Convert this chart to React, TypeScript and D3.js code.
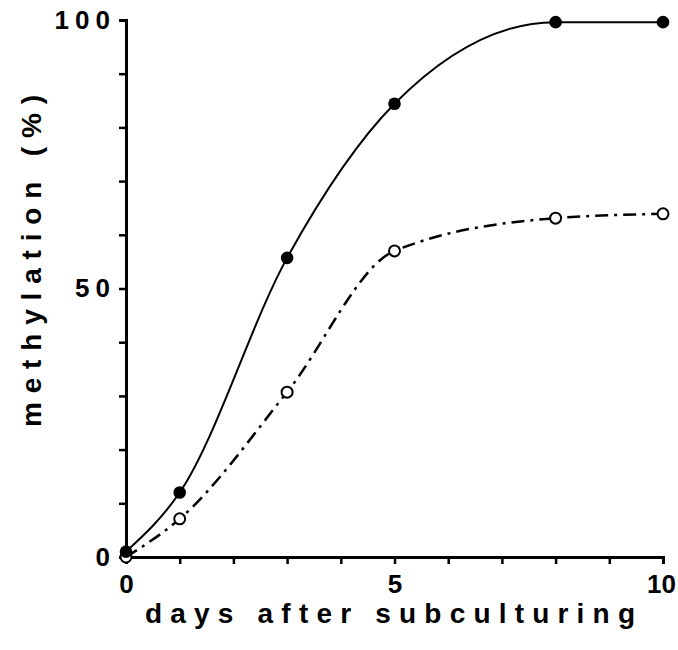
import React, { useEffect, useRef } from 'react';
import * as d3 from 'd3';

// ----- data -----
const days = [0, 1, 3, 5, 8, 10];
const filledSeries = [1, 12, 55.7, 84.4, 99.6, 99.6];
const openSeries = [0, 7.1, 30.7, 57, 63.1, 63.9];
const yTicks = [0, 10, 20, 30, 40, 50, 60, 70, 80, 90, 100];
const yLabels = [0, 50, 100];
const xTicks = [0, 1, 2, 3, 4, 5, 6, 7, 8, 9, 10];
const xLabels = [0, 5, 10];

const FONT = '"Liberation Sans", Arial, Helvetica, sans-serif';

const App = () => {
  const ref = useRef<SVGSVGElement | null>(null);

  useEffect(() => {
    const fullW = 678;
    const fullH = 650;
    const svg = d3.select(ref.current);
    svg.selectAll('*').remove();
    svg.attr('width', fullW).attr('height', fullH);

    const x = d3.scaleLinear().domain([0, 10]).range([126, 663]);
    const y = d3.scaleLinear().domain([0, 100]).range([557, 20]);

    // axes
    const ax = svg.append('g').attr('transform', `translate(0,${y(0)})`)
      .call(d3.axisBottom(x).tickValues(xTicks).tickSize(7).tickSizeOuter(7).tickPadding(11)
        .tickFormat(d => (xLabels.includes(+d) ? String(d) : '')));
    const ay = svg.append('g').attr('transform', `translate(${x(0)},0)`)
      .call(d3.axisLeft(y).tickValues(yTicks).tickSize(7).tickSizeOuter(7).tickPadding(9)
        .tickFormat(d => (yLabels.includes(+d) ? String(d) : '')));

    [ax, ay].forEach(a => {
      a.select('.domain').attr('stroke', '#000').attr('stroke-width', 3);
      a.selectAll('.tick line').attr('stroke', '#000').attr('stroke-width', 2.5);
      a.selectAll('.tick text')
        .attr('fill', '#000')
        .style('font-family', FONT)
        .style('font-weight', 'bold')
        .style('font-size', '26px');
    });
    // letter-spacing trails the last glyph, shift back
    ay.selectAll('.tick text').style('letter-spacing', '6px').attr('dx', 6);
    ax.selectAll('.tick text').attr('dx', d => (+d === 10 ? -2 : 0));

    const pts = (vals: number[]) => days.map((d, i) => [d, vals[i]] as [number, number]);

    const line = d3.line<[number, number]>()
      .x(d => x(d[0]))
      .y(d => y(d[1]))
      .curve(d3.curveMonotoneX);

    // dash-dot curve (open circles)
    svg.append('path')
      .datum(pts(openSeries))
      .attr('fill', 'none')
      .attr('stroke', '#000')
      .attr('stroke-width', 2.5)
      .attr('stroke-dasharray', '13,6,3,6')
      .attr('d', line);

    // solid curve (filled circles)
    svg.append('path')
      .datum(pts(filledSeries))
      .attr('fill', 'none')
      .attr('stroke', '#000')
      .attr('stroke-width', 2)
      .attr('d', line);

    svg.append('g')
      .selectAll('circle')
      .data(pts(openSeries))
      .join('circle')
      .attr('cx', d => x(d[0]))
      .attr('cy', d => y(d[1]))
      .attr('r', 5.5)
      .attr('fill', '#fff')
      .attr('stroke', '#000')
      .attr('stroke-width', 2);

    svg.append('g')
      .selectAll('circle')
      .data(pts(filledSeries))
      .join('circle')
      .attr('cx', d => x(d[0]))
      .attr('cy', d => y(d[1]))
      .attr('r', 6.3)
      .attr('fill', '#000');

    // axis titles
    svg.append('text')
      .attr('x', 145)
      .attr('y', 623)
      .attr('textLength', 490)
      .attr('lengthAdjust', 'spacing')
      .style('font-family', FONT)
      .style('font-weight', 'bold')
      .style('font-size', '28px')
      .text('days after subculturing');

    svg.append('text')
      .attr('transform', `translate(41,427) rotate(-90)`)
      .attr('textLength', 332)
      .attr('lengthAdjust', 'spacing')
      .style('font-family', FONT)
      .style('font-weight', 'bold')
      .style('font-size', '28px')
      .text('methylation (%)');
  }, []);

  return (
    <svg ref={ref} style={{ position: 'absolute', left: 0, top: 0, background: '#fff' }} />
  );
};

export default App;
